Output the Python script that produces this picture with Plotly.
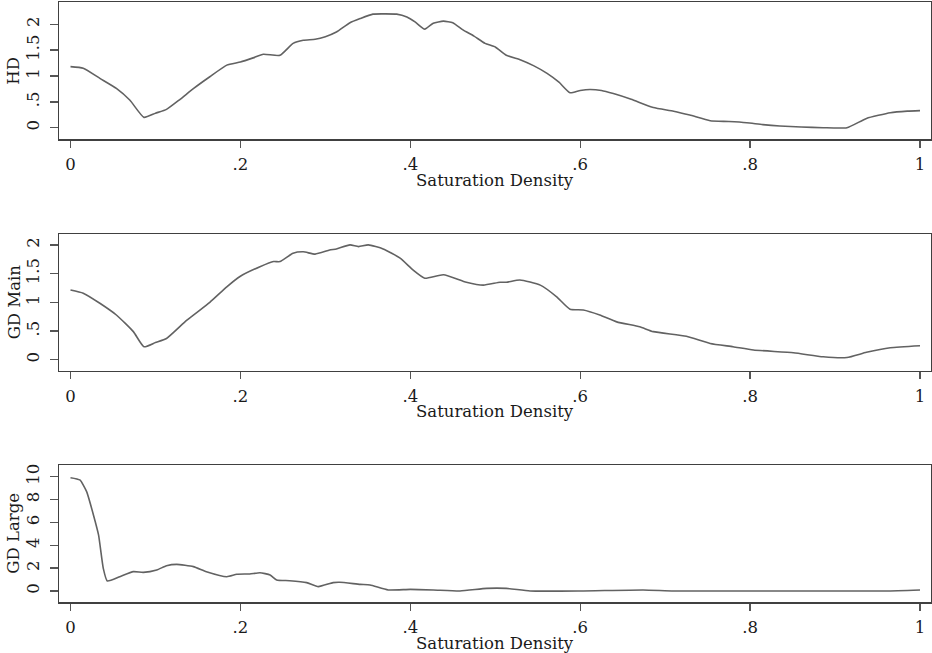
import plotly.graph_objects as go

# ---- data ----
hd_x = [0, 0.015, 0.035, 0.054, 0.07, 0.0865, 0.10, 0.113, 0.129, 0.145, 0.164, 0.184, 0.20,
        0.215, 0.227, 0.2466, 0.262, 0.274, 0.288, 0.30, 0.313, 0.329, 0.341, 0.356, 0.37,
        0.384, 0.396, 0.406, 0.417, 0.427, 0.439, 0.45, 0.462, 0.475, 0.488, 0.50, 0.513,
        0.53, 0.545, 0.561, 0.575, 0.588, 0.60, 0.6115, 0.625, 0.639, 0.66, 0.686, 0.71,
        0.729, 0.753, 0.775, 0.796, 0.815, 0.835, 0.86, 0.886, 0.914, 0.937, 0.965, 0.985, 1.0]
hd_y = [1.18, 1.15, 0.95, 0.76, 0.53, 0.20, 0.28, 0.355, 0.55, 0.76, 0.985, 1.21, 1.27,
        1.35, 1.42, 1.40, 1.63, 1.69, 1.71, 1.76, 1.85, 2.03, 2.11, 2.195, 2.20,
        2.195, 2.14, 2.04, 1.905, 2.02, 2.06, 2.03, 1.89, 1.77, 1.63, 1.56, 1.40,
        1.31, 1.20, 1.05, 0.88, 0.676, 0.72, 0.74, 0.72, 0.66, 0.55, 0.39, 0.32,
        0.245, 0.135, 0.12, 0.097, 0.06, 0.033, 0.015, 0.0, 0.0, 0.18, 0.29, 0.32, 0.33]

gdm_x = [0, 0.015, 0.035, 0.054, 0.074, 0.0865, 0.10, 0.113, 0.137, 0.164, 0.184, 0.1995,
         0.223, 0.239, 0.2466, 0.262, 0.274, 0.288, 0.305, 0.313, 0.329, 0.339, 0.3506,
         0.368, 0.388, 0.4035, 0.417, 0.439, 0.466, 0.486, 0.5056, 0.513, 0.529, 0.553,
         0.572, 0.588, 0.6036, 0.623, 0.643, 0.670, 0.686, 0.725, 0.753, 0.780, 0.804,
         0.851, 0.886, 0.914, 0.937, 0.965, 1.0]
gdm_y = [1.215, 1.16, 0.98, 0.78, 0.49, 0.227, 0.30, 0.37, 0.69, 1.0, 1.27, 1.45,
         1.62, 1.71, 1.71, 1.855, 1.88, 1.84, 1.91, 1.93, 2.0, 1.97, 2.0,
         1.93, 1.77, 1.56, 1.42, 1.48, 1.35, 1.30, 1.35, 1.35, 1.39, 1.30,
         1.10, 0.88, 0.867, 0.78, 0.66, 0.575, 0.49, 0.41, 0.285, 0.227, 0.17,
         0.122, 0.052, 0.04, 0.13, 0.21, 0.245]

gdl_x = [0, 0.011, 0.019, 0.027, 0.033, 0.0386, 0.0433, 0.058, 0.074, 0.0857, 0.1015, 0.113,
         0.125, 0.1446, 0.160, 0.184, 0.1957, 0.211, 0.223, 0.235, 0.2427, 0.258, 0.278,
         0.2917, 0.309, 0.317, 0.341, 0.3526, 0.374, 0.40, 0.427, 0.4585, 0.49, 0.513,
         0.541, 0.60, 0.674, 0.71, 0.80, 0.90, 0.96, 1.0]
gdl_y = [9.91, 9.71, 8.69, 6.65, 4.9, 1.98, 0.875, 1.25, 1.69, 1.63, 1.84, 2.21,
         2.33, 2.13, 1.69, 1.25, 1.46, 1.49, 1.6, 1.4, 0.96, 0.9, 0.73,
         0.38, 0.73, 0.76, 0.58, 0.525, 0.09, 0.14, 0.09, 0.0, 0.23, 0.23,
         0.0, 0.0, 0.09, 0.0, 0.0, 0.0, 0.0, 0.09]

x_ticks = [0, 0.2, 0.4, 0.6, 0.8, 1]
x_ticktext = ["0", ".2", ".4", ".6", ".8", "1"]
y12_ticks = [0, 0.5, 1, 1.5, 2]
y12_ticktext = ["0", ".5", "1", "1.5", "2"]
y3_ticks = [0, 2, 4, 6, 8, 10]
y3_ticktext = ["0", "2", "4", "6", "8", "10"]
y_titles = ["HD", "GD Main", "GD Large"]
x_title = "Saturation Density"

# ---- layout ----
W, H = 932, 653
FONT = "DejaVu Serif"
FS = 16.5
LINE_C = "#626262"
FRAME_C = "#404040"
TXT_C = "#1a1a1a"

# pixel boxes of each panel (top, bottom)
boxes = [(2, 139.3), (234, 370.7), (465, 602.3)]
yranges = [[-0.224, 2.43], [-0.19, 2.19], [-0.99, 11.02]]
series = [(hd_x, hd_y), (gdm_x, gdm_y), (gdl_x, gdl_y)]
yticks = [(y12_ticks, y12_ticktext), (y12_ticks, y12_ticktext), (y3_ticks, y3_ticktext)]

fig = go.Figure()
annotations = []
for i, ((xs, ys), (top, bot)) in enumerate(zip(series, boxes)):
    n = "" if i == 0 else str(i + 1)
    fig.add_trace(go.Scatter(x=xs, y=ys, mode="lines",
                             line=dict(color=LINE_C, width=1.6, shape="spline", smoothing=0.5),
                             xaxis="x" + n, yaxis="y" + n, showlegend=False,
                             hoverinfo="skip"))
    dom = [1 - bot / H, 1 - top / H]
    axis_common = dict(showline=True, linecolor=FRAME_C, linewidth=1.3, mirror=True,
                       showgrid=False, zeroline=False, ticks="outside",
                       tickcolor="#555555", tickwidth=1.3,
                       tickfont=dict(family=FONT, size=FS, color=TXT_C),
                       automargin=False, fixedrange=True)
    fig.update_layout(**{
        "xaxis" + n: dict(domain=[0, 1], range=[-0.01354, 1.01295], anchor="y" + n,
                          tickvals=x_ticks, ticktext=x_ticktext, ticklen=7,
                          ticklabelstandoff=3, **axis_common),
        "yaxis" + n: dict(domain=dom, range=yranges[i], anchor="x" + n,
                          tickvals=yticks[i][0], ticktext=yticks[i][1], ticklen=8,
                          tickangle=-90, ticklabelstandoff=4, **axis_common),
    })
    annotations.append(dict(text=y_titles[i], xref="paper", yref="paper",
                            x=(14 - 59) / 872, y=(dom[0] + dom[1]) / 2,
                            xanchor="center", yanchor="middle", textangle=-90,
                            showarrow=False,
                            font=dict(family=FONT, size=FS, color=TXT_C)))
    annotations.append(dict(text=x_title, xref="x" + n, yref="paper",
                            x=0.5, y=1 - (bot + 41) / H,
                            xanchor="center", yanchor="middle", showarrow=False,
                            font=dict(family=FONT, size=FS, color=TXT_C)))

fig.update_layout(width=W, height=H, margin=dict(l=59, r=1, t=0, b=0),
                  paper_bgcolor="white", plot_bgcolor="white",
                  annotations=annotations)

fig.write_html("out.html", config={"displayModeBar": False, "staticPlot": True},
               post_script="document.body.style.margin='0';"
                           "document.documentElement.style.overflow='hidden';"
                           "document.body.style.overflow='hidden';")
